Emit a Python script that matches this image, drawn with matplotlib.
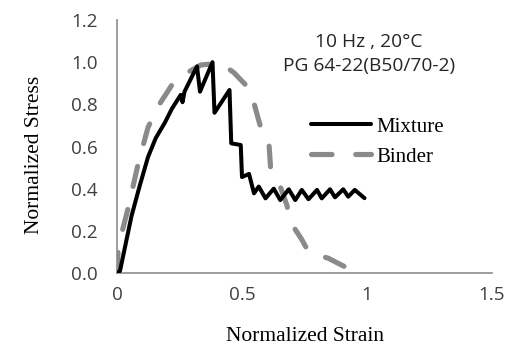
import matplotlib
matplotlib.use("Agg")
import matplotlib.pyplot as plt

# Mixture curve (normalized strain, normalized stress)
mix_x = [0.0, 0.012, 0.058, 0.09, 0.124, 0.155, 0.19, 0.22, 0.255, 0.262, 0.27,
         0.32, 0.332, 0.382, 0.39, 0.45, 0.457, 0.495, 0.50, 0.528, 0.548,
         0.567, 0.594, 0.627, 0.653, 0.687, 0.713, 0.739, 0.766, 0.80, 0.819,
         0.852, 0.872, 0.905, 0.925, 0.951, 0.99]
mix_y = [0.0, 0.01, 0.27, 0.41, 0.55, 0.64, 0.71, 0.78, 0.845, 0.81, 0.86,
         0.98, 0.86, 1.0, 0.76, 0.868, 0.615, 0.607, 0.455, 0.47, 0.378,
         0.41, 0.354, 0.40, 0.346, 0.397, 0.346, 0.394, 0.35, 0.394, 0.354,
         0.397, 0.359, 0.397, 0.362, 0.394, 0.355]

# Binder curve
bin_x = [0.0, 0.005, 0.045, 0.085, 0.124, 0.164, 0.224, 0.276, 0.336, 0.415,
         0.468, 0.534, 0.548, 0.574, 0.607, 0.614, 0.647, 0.68, 0.693, 0.74,
         0.766, 0.845, 0.911]
bin_y = [0.0, 0.125, 0.31, 0.52, 0.69, 0.79, 0.90, 0.947, 0.987, 0.995,
         0.95, 0.868, 0.805, 0.694, 0.63, 0.504, 0.43, 0.32, 0.243, 0.157,
         0.10, 0.07, 0.03]

x_ticks = [0, 0.5, 1, 1.5]
x_tick_labels = ["0", "0.5", "1", "1.5"]
y_ticks = [0.0, 0.2, 0.4, 0.6, 0.8, 1.0, 1.2]
y_tick_labels = ["0.0", "0.2", "0.4", "0.6", "0.8", "1.0", "1.2"]

series_labels = ["Mixture", "Binder"]
annotation = "10 Hz , 20°C\nPG 64-22(B50/70-2)"

L, R, T, B = 117, 492, 20, 273
W = R - L
H = B - T

fig = plt.figure(figsize=(5.07, 3.46), dpi=100)
ax = fig.add_axes([L/507, 1-B/346, W/507, H/346])

gray = "#8a8a8a"
ax.plot(bin_x, bin_y, color=gray, lw=3.7, linestyle=(0, (4.0, 4.6)),
        dash_capstyle="round", solid_capstyle="round", dash_joinstyle="round",
        label=series_labels[1], zorder=2)
ax.plot(mix_x, mix_y, color="black", lw=2.9, solid_joinstyle="round",
        solid_capstyle="round", label=series_labels[0], zorder=3)

ax.set_xlim(0, 1.5)
ax.set_ylim(0, 1.2)
ax.set_xticks(x_ticks)
ax.set_xticklabels(x_tick_labels)
ax.set_yticks(y_ticks)
ax.set_yticklabels(y_tick_labels)
for s in ["top", "right"]:
    ax.spines[s].set_visible(False)
for s in ["left", "bottom"]:
    ax.spines[s].set_color("#8c8c8c")
    ax.spines[s].set_linewidth(1.2)
ax.tick_params(axis="both", length=0, labelsize=13.6, labelcolor="#404040")
ax.tick_params(axis="x", pad=9)
ax.tick_params(axis="y", pad=14)
for lab in ax.get_xticklabels() + ax.get_yticklabels():
    lab.set_family("Open Sans")

serif = "Liberation Serif"
ax.set_xlabel("Normalized Strain", fontsize=15.5, family=serif, labelpad=17)
ax.set_ylabel("Normalized Stress", fontsize=15.5, family=serif)
ax.yaxis.set_label_coords(-(L - 44) / W, (B - 155) / H)

ax.text((369 - L) / W, (B - 54) / H, annotation, transform=ax.transAxes, ha="center",
        va="center", fontsize=13.8, family="Open Sans", color="#262626",
        linespacing=1.4)

handles, labels = ax.get_legend_handles_labels()
leg = ax.legend(handles[::-1], labels[::-1], loc="upper left",
                bbox_to_anchor=((311 - L) / W, (B - 117) / H),
                frameon=False, borderpad=0, borderaxespad=0, handlelength=2.9,
                handletextpad=0.25, labelspacing=0.5,
                prop={"family": serif, "size": 15})

fig.savefig("out.png", dpi=100)
